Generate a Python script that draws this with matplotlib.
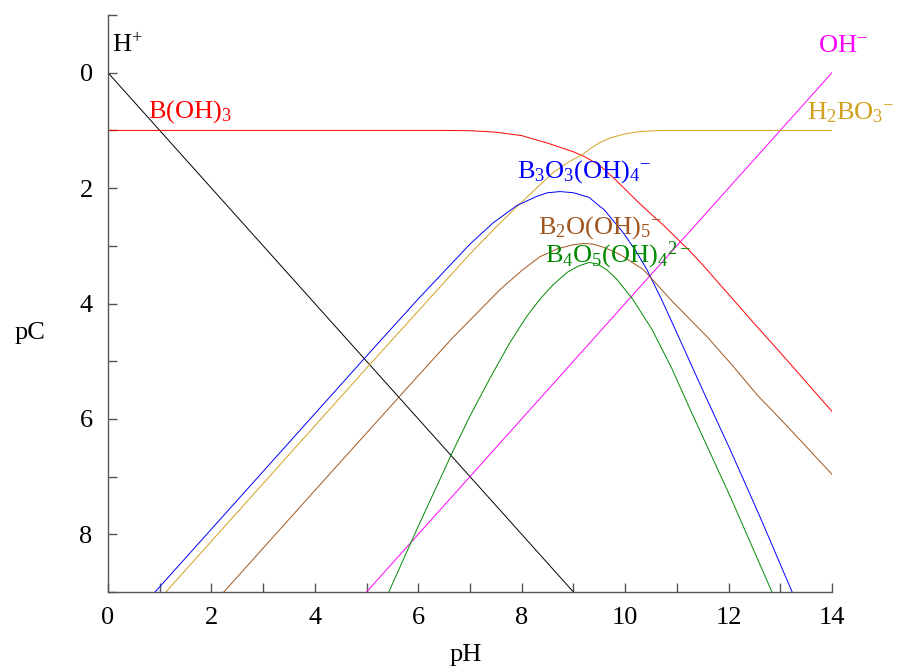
import matplotlib
matplotlib.use("Agg")
import matplotlib.pyplot as plt

#################
# configuration #
#################

plt.rcParams['font.family'] = ['Liberation Serif', 'DejaVu Serif']
plt.rcParams['mathtext.fontset'] = 'custom'
plt.rcParams['mathtext.rm'] = 'Liberation Serif'
plt.rcParams['mathtext.it'] = 'Liberation Serif:italic'
plt.rcParams['mathtext.default'] = 'rm'

# values (pH, pC)
h_ph = [0, 9]
h_pc = [0, 9]

oh_ph = [5, 14]
oh_pc = [9, 0]

boh3_ph = [0, 6.5, 7.0, 7.5, 8.0, 8.5, 9.0, 9.25, 9.5, 9.75, 10.0, 10.25, 10.5,
           10.75, 11.0, 11.25, 11.5, 12.0, 12.5, 13.0, 13.5, 14.0]
boh3_pc = [1.0, 1.0, 1.005, 1.03, 1.09, 1.22, 1.37, 1.47, 1.6, 1.8, 2.02, 2.24, 2.45,
           2.65, 2.87, 3.09, 3.33, 3.84, 4.35, 4.85, 5.36, 5.87]

h2bo3_ph = [1.12, 3, 5, 7, 7.5, 7.91, 8.25, 8.61, 8.9, 9.17, 9.32, 9.51, 9.71,
            10.0, 10.29, 10.7, 14]
h2bo3_pc = [9, 7.12, 5.12, 3.14, 2.68, 2.32, 2.03, 1.73, 1.55, 1.42, 1.32, 1.21, 1.13,
            1.06, 1.02, 1.0, 1.0]

b3_ph = [0.91, 3, 5, 6, 7, 7.45, 7.91, 8.3, 8.5, 8.74, 9.0, 9.3, 9.6, 9.96, 10.2,
         10.42, 10.7, 10.97, 11.5, 12.03, 12.6, 13.23]
b3_pc = [9, 6.91, 4.91, 3.92, 2.97, 2.6, 2.3, 2.14, 2.08, 2.06, 2.08, 2.16, 2.38, 2.77, 3.08,
         3.41, 3.92, 4.45, 5.5, 6.53, 7.68, 9]

b2_ph = [2.24, 4, 6, 6.67, 7.58, 8.0, 8.35, 8.7, 9.0, 9.2, 9.38, 9.6, 9.9, 10.35,
         10.93, 11.6, 12.1, 12.55, 13.19, 14.0]
b2_pc = [9, 7.24, 5.25, 4.59, 3.76, 3.43, 3.19, 3.05, 2.98, 2.96, 2.97, 3.03, 3.15, 3.41,
         3.98, 4.59, 5.1, 5.58, 6.18, 6.96]

b4_ph = [5.43, 5.98, 6.67, 7.0, 7.39, 7.77, 8.1, 8.35, 8.6, 8.88, 9.1, 9.3, 9.46,
         9.65, 9.84, 10.15, 10.52, 10.9, 11.26, 11.65, 12.03, 12.84]
b4_pc = [9, 7.9, 6.56, 5.95, 5.29, 4.68, 4.22, 3.93, 3.68, 3.46, 3.35, 3.29, 3.31,
         3.42, 3.58, 3.93, 4.45, 5.12, 5.84, 6.6, 7.34, 9]

x_ticks = [0, 2, 4, 6, 8, 10, 12, 14]
y_ticks = [0, 2, 4, 6, 8]

c_red = '#ff0000'
c_gold = '#d4a020'
c_blue = '#0000ff'
c_brown = '#a0561e'
c_green = '#008a00'
c_mag = '#ff00ff'

########
# plot #
########

fig = plt.figure(figsize=(9, 6.68), dpi=100)
ax = fig.add_axes([0.12, 0.1138, 0.8044, 0.8637])

lw = 0.7
ax.plot(h_ph, h_pc, color='black', lw=lw)
ax.plot(oh_ph, oh_pc, color=c_mag, lw=lw)
ax.plot(boh3_ph, boh3_pc, color=c_red, lw=lw)
ax.plot(h2bo3_ph, h2bo3_pc, color=c_gold, lw=lw)
ax.plot(b3_ph, b3_pc, color=c_blue, lw=lw)
ax.plot(b2_ph, b2_pc, color=c_brown, lw=lw)
ax.plot(b4_ph, b4_pc, color=c_green, lw=lw)

fs = 19
ax.text(0.08, -0.47, r'H$^{+}$', color='black', fontsize=fs, va='center', ha='left')
ax.text(0.77, 0.68, r'B(OH)$_3$', color=c_red, fontsize=fs, va='center', ha='left')
ax.text(13.52, 0.7, r'H$_2$BO$_3$$^{-}$', color=c_gold, fontsize=fs, va='center', ha='left', clip_on=False)
ax.text(13.73, -0.47, r'OH$^{-}$', color=c_mag, fontsize=fs, va='center', ha='left', clip_on=False)
ax.text(7.91, 1.72, r'B$_3$O$_3$(OH)$_4$$^{-}$', color=c_blue, fontsize=fs, va='center', ha='left')
ax.text(8.32, 2.68, r'B$_2$O(OH)$_5$$^{-}$', color=c_brown, fontsize=fs, va='center', ha='left')
ax.text(8.45, 3.17, r'B$_4$O$_5$(OH)$_4$$^{2-}$', color=c_green, fontsize=fs, va='center', ha='left')

ax.set_xlim(0, 14)
ax.set_ylim(9, -1)
ax.set_xticks(x_ticks)
ax.set_xticks(range(0, 15), minor=True)
ax.set_yticks(y_ticks)
ax.set_yticks(range(-1, 10), minor=True)

ax.spines['top'].set_visible(False)
ax.spines['right'].set_visible(False)
for s in ['left', 'bottom']:
    ax.spines[s].set_color('#555555')
    ax.spines[s].set_linewidth(1.0)

ax.tick_params(which='both', direction='in', length=6.5, width=1.0, color='#555555',
               labelsize=fs, labelcolor='black')
ax.tick_params(axis='x', which='both', pad=11)
ax.tick_params(axis='y', which='both', pad=11)

ax.set_xlabel('pH', fontsize=fs)
ax.set_ylabel('pC', fontsize=fs, rotation=0)
ax.xaxis.set_label_coords(0.494, -0.109)
ax.yaxis.set_label_coords(-0.108, 0.449)
ax.xaxis.label.set_va('center')
ax.yaxis.label.set_va('center')

plt.savefig('out.png', dpi=100)
plt.close()
